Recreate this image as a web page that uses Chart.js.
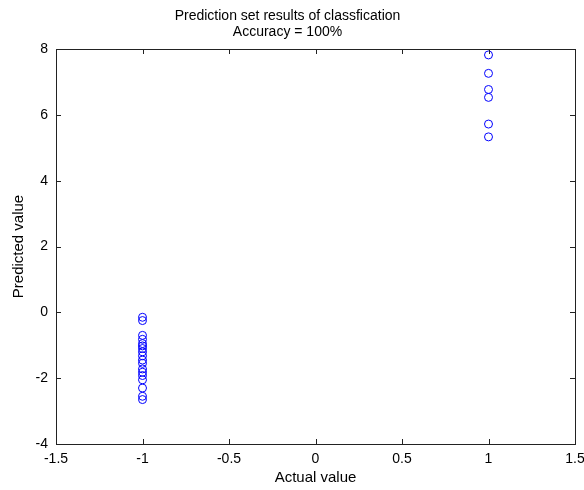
<!DOCTYPE html>
<html>
<head>
<meta charset="utf-8">
<script src="https://cdn.jsdelivr.net/npm/chart.js@4"></script>
<style>
  body { margin: 0; background: #fff; }
</style>
</head>
<body>
<canvas id="chart" width="584" height="490"></canvas>
<script>
// class +1 samples
const actualPos = [1, 1, 1, 1, 1, 1];
const predictedPos = [7.82, 7.26, 6.77, 6.53, 5.72, 5.33];
// class -1 samples
const actualNeg = [-1, -1, -1, -1, -1, -1, -1, -1, -1, -1, -1, -1, -1, -1, -1, -1, -1, -1];
const predictedNeg = [-0.15, -0.25, -0.7, -0.82, -0.95, -1.02, -1.1, -1.2, -1.32, -1.45, -1.55, -1.72, -1.82, -1.92, -2.05, -2.3, -2.55, -2.65];

const xTicks = [-1.5, -1, -0.5, 0, 0.5, 1, 1.5];
const yTicks = [-4, -2, 0, 2, 4, 6, 8];

const points = actualNeg.map((x, i) => ({x: x, y: predictedNeg[i]}))
  .concat(actualPos.map((x, i) => ({x: x, y: predictedPos[i]})));

const font = "'Liberation Sans', Arial, sans-serif";

// matlab style box with inward ticks on all four sides
const boxPlugin = {
  id: 'box',
  afterDraw(chart) {
    const ctx = chart.ctx;
    const a = chart.chartArea;
    const xs = chart.scales.x, ys = chart.scales.y;
    const len = 5;
    ctx.save();
    ctx.strokeStyle = '#222';
    ctx.lineWidth = 1;
    ctx.strokeRect(Math.round(a.left) + 0.5, Math.round(a.top) + 0.5,
      Math.round(a.right - a.left), Math.round(a.bottom - a.top));
    ctx.beginPath();
    xTicks.forEach(v => {
      const px = Math.round(xs.getPixelForValue(v)) + 0.5;
      ctx.moveTo(px, a.bottom); ctx.lineTo(px, a.bottom - len);
      ctx.moveTo(px, a.top); ctx.lineTo(px, a.top + len);
    });
    yTicks.forEach(v => {
      const py = Math.round(ys.getPixelForValue(v)) + 0.5;
      ctx.moveTo(a.left, py); ctx.lineTo(a.left + len, py);
      ctx.moveTo(a.right, py); ctx.lineTo(a.right - len, py);
    });
    ctx.stroke();
    ctx.restore();
  }
};

const ctx = document.getElementById('chart').getContext('2d');
new Chart(ctx, {
  type: 'scatter',
  data: {
    datasets: [{
      data: points,
      pointStyle: 'circle',
      pointRadius: 4,
      pointBorderWidth: 1,
      borderColor: '#0000ff',
      backgroundColor: 'rgba(0,0,0,0)'
    }]
  },
  options: {
    responsive: false,
    animation: false,
    devicePixelRatio: 1,
    layout: { padding: { left: 0, right: 9, top: 0, bottom: 0 } },
    scales: {
      x: {
        min: -1.5,
        max: 1.5,
        afterBuildTicks: s => { s.ticks = xTicks.map(v => ({value: v})); },
        afterFit: s => { s.height = 46; s.paddingLeft = 0; s.paddingRight = 0; },
        grid: { display: false, drawTicks: false },
        border: { display: false },
        ticks: { color: '#000', padding: 7, font: { family: font, size: 14 }, callback: v => String(v) },
        title: { display: true, text: 'Actual value', color: '#000', padding: { top: 2, bottom: 3 }, font: { family: font, size: 15 } }
      },
      y: {
        min: -4,
        max: 8,
        afterBuildTicks: s => { s.ticks = yTicks.map(v => ({value: v})); },
        afterFit: s => { s.width = 56; },
        grid: { display: false, drawTicks: false },
        border: { display: false },
        ticks: { color: '#000', padding: 8, font: { family: font, size: 14 }, callback: v => String(v) },
        title: { display: true, text: 'Predicted value', color: '#000', padding: { top: 10, bottom: 4 }, font: { family: font, size: 15 } }
      }
    },
    plugins: {
      legend: { display: false },
      tooltip: { enabled: false },
      title: {
        display: true,
        text: ['Prediction set results of classfication', 'Accuracy = 100%'],
        color: '#000',
        padding: { top: 8, bottom: 9 },
        font: { family: font, size: 14, weight: 'normal', lineHeight: 16 / 14 }
      }
    }
  },
  plugins: [boxPlugin]
});
</script>
</body>
</html>
